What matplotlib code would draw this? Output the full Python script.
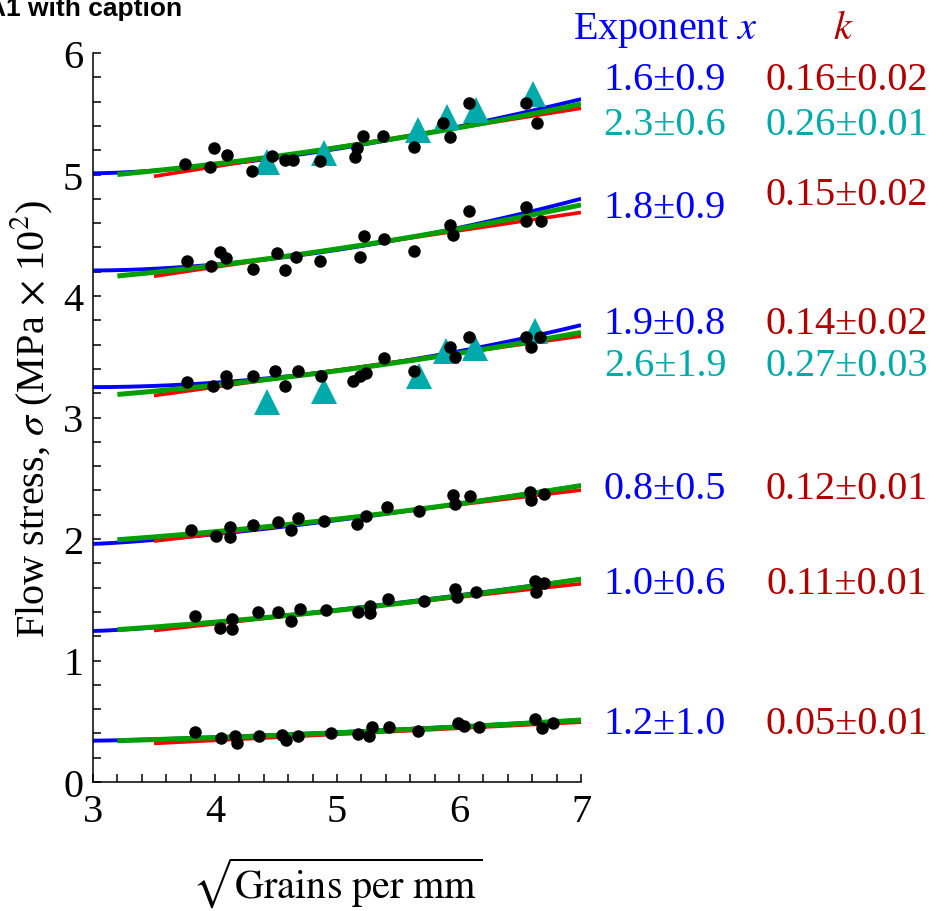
import numpy as np
import matplotlib
matplotlib.use("Agg")
import matplotlib.pyplot as plt
from matplotlib.ticker import MultipleLocator

plt.rcParams["font.family"] = ["Liberation Serif", "DejaVu Serif"]
plt.rcParams["mathtext.fontset"] = "stix"

# ---- measured data: sqrt(grains per mm) vs flow stress (MPa x 10^2) ----
g1 = [3.75, 3.96, 3.99, 4.10, 4.30, 4.47, 4.57, 4.64, 4.86, 5.15, 5.16, 5.21, 5.38, 5.63, 5.87, 5.93, 6.08, 6.55, 6.64]
s1 = [5.09, 5.06, 5.22, 5.16, 5.03, 5.15, 5.12, 5.12, 5.11, 5.14, 5.22, 5.32, 5.32, 5.23, 5.42, 5.31, 5.59, 5.59, 5.42]

g2 = [3.77, 3.97, 4.04, 4.09, 4.31, 4.51, 4.57, 4.66, 4.86, 5.19, 5.22, 5.385, 5.63, 5.93, 5.95, 6.08, 6.55, 6.55, 6.67]
s2 = [4.285, 4.25, 4.365, 4.31, 4.22, 4.35, 4.21, 4.32, 4.29, 4.32, 4.49, 4.47, 4.37, 4.585, 4.50, 4.70, 4.73, 4.615, 4.615]

g3 = [3.77, 3.98, 4.09, 4.10, 4.31, 4.49, 4.57, 4.68, 4.87, 5.13, 5.19, 5.24, 5.385, 5.63, 5.93, 5.97, 6.08, 6.55, 6.59, 6.66]
s3 = [3.29, 3.26, 3.345, 3.28, 3.345, 3.385, 3.26, 3.38, 3.345, 3.30, 3.345, 3.37, 3.49, 3.385, 3.58, 3.495, 3.665, 3.665, 3.58, 3.665]

g4 = [3.80, 4.01, 4.12, 4.12, 4.31, 4.52, 4.62, 4.68, 4.89, 5.16, 5.24, 5.41, 5.675, 5.95, 5.97, 6.09, 6.58, 6.59, 6.70]
s4 = [2.077, 2.027, 2.096, 2.02, 2.115, 2.14, 2.077, 2.17, 2.15, 2.12, 2.19, 2.26, 2.23, 2.36, 2.29, 2.35, 2.39, 2.32, 2.37]

g5 = [3.84, 4.04, 4.14, 4.14, 4.35, 4.52, 4.62, 4.70, 4.91, 5.17, 5.27, 5.27, 5.42, 5.71, 5.97, 5.98, 6.14, 6.62, 6.63, 6.70]
s5 = [1.364, 1.267, 1.342, 1.259, 1.397, 1.397, 1.328, 1.424, 1.416, 1.397, 1.39, 1.45, 1.506, 1.487, 1.588, 1.52, 1.561, 1.657, 1.561, 1.635]

g6 = [3.84, 4.05, 4.16, 4.18, 4.36, 4.55, 4.58, 4.68, 4.95, 5.17, 5.26, 5.29, 5.43, 5.66, 5.99, 6.04, 6.16, 6.62, 6.68, 6.77]
s6 = [0.414, 0.362, 0.376, 0.318, 0.381, 0.389, 0.348, 0.381, 0.40, 0.395, 0.381, 0.455, 0.455, 0.417, 0.483, 0.458, 0.45, 0.518, 0.444, 0.486]

# second material (triangles)
gt1 = [4.43, 4.89, 5.66, 5.90, 6.14, 6.61]
st1 = [5.10, 5.18, 5.37, 5.47, 5.53, 5.66]
gt3 = [4.43, 4.89, 5.67, 5.89, 6.13, 6.62]
st3 = [3.13, 3.215, 3.34, 3.545, 3.575, 3.71]

# ---- fitted curves, one entry per data set (top to bottom) ----
k_fit = [0.16, 0.15, 0.14, 0.12, 0.11, 0.05]           # linear Hall-Petch slope
red_icpt = [4.425, 3.6375, 2.69, 1.5625, 0.8615, 0.1425]
blue_start = [5.01, 4.21, 3.25, 1.96, 1.243, 0.34]     # value at g = 3
blue_end = [5.62, 4.80, 3.76, 2.44, 1.67, 0.51]        # value at g = 7
blue_shape = [1.6, 1.8, 1.9, 1.3, 1.3, 1.3]
green_a = [4.847, 4.010, 3.055, 1.876, 1.144, 0.295]   # a + c*g^2
green_c = [0.01496, 0.0151, 0.01316, 0.0115, 0.01073, 0.00439]

# ---- annotation text ----
exp_labels = ["1.6\u00b10.9", "1.8\u00b10.9", "1.9\u00b10.8", "0.8\u00b10.5", "1.0\u00b10.6", "1.2\u00b11.0"]
k_labels = ["0.16\u00b10.02", "0.15\u00b10.02", "0.14\u00b10.02", "0.12\u00b10.01", "0.11\u00b10.01", "0.05\u00b10.01"]
exp_base_px = [90, 218, 334, 499, 594, 734]
k_base_px = [90, 205, 334, 499, 594, 734]
tri_exp_labels = ["2.3\u00b10.6", "2.6\u00b11.9"]
tri_k_labels = ["0.26\u00b10.01", "0.27\u00b10.03"]
tri_base_px = [135, 376]

BLUE = "#0000ff"
RED = "#ff0000"
GREEN = "#00a000"
CYAN = "#00aaaa"
DARKRED = "#b00000"

W, H = 931, 912
fig = plt.figure(figsize=(W / 100, H / 100), dpi=100)
ax = fig.add_axes([93 / W, 1 - 783 / H, 488 / W, 729 / H])

groups_g = [g1, g2, g3, g4, g5, g6]
groups_s = [s1, s2, s3, s4, s5, s6]

for i in range(6):
    gb = np.linspace(3.0, 7.0, 200)
    B = (blue_end[i] - blue_start[i]) / 4.0 ** blue_shape[i]
    ax.plot(gb, blue_start[i] + B * (gb - 3.0) ** blue_shape[i], color=BLUE, lw=2.8,
            solid_capstyle="butt", zorder=2)
    gr = np.linspace(3.5, 7.0, 50)
    ax.plot(gr, red_icpt[i] + k_fit[i] * gr, color=RED, lw=2.6, solid_capstyle="butt", zorder=3)
    gg = np.linspace(3.2, 7.0, 200)
    ax.plot(gg, green_a[i] + green_c[i] * gg ** 2, color=GREEN, lw=3.6,
            solid_capstyle="butt", zorder=4)

for gt, st in [(gt1, st1), (gt3, st3)]:
    ax.plot(gt, st, linestyle="none", marker="^", markersize=19, color=CYAN,
            markeredgewidth=0, zorder=5)

for gs, ss in zip(groups_g, groups_s):
    ax.plot(gs, ss, linestyle="none", marker="o", markersize=9, color="black",
            markeredgewidth=0, zorder=6)

ax.set_xlim(3, 7)
ax.set_ylim(0, 6)
for side in ("top", "right"):
    ax.spines[side].set_visible(False)
for side in ("left", "bottom"):
    ax.spines[side].set_linewidth(1.1)
ax.xaxis.set_major_locator(MultipleLocator(1))
ax.xaxis.set_minor_locator(MultipleLocator(0.2))
ax.yaxis.set_major_locator(MultipleLocator(1))
ax.yaxis.set_minor_locator(MultipleLocator(0.2))
ax.tick_params(which="both", direction="in", length=6, width=1.1)
ax.tick_params(axis="x", which="major", labelsize=29, pad=8)
ax.tick_params(axis="y", which="major", labelsize=29, pad=7)

ax.set_xlabel(r"$\sqrt{\mathrm{Grains\ per\ mm}}$", fontsize=29, labelpad=18)
ax.set_ylabel(r"Flow stress, $\sigma$ (MPa $\times$ 10$^2$)", fontsize=29, labelpad=6)

def fy(py):
    return 1 - py / H

fig.text(665 / W, fy(39), r"Exponent $x$", color=BLUE, fontsize=29, ha="center", va="baseline")
fig.text(843 / W, fy(39), r"$k$", color=DARKRED, fontsize=29, ha="center", va="baseline")
for lab, pb in zip(exp_labels, exp_base_px):
    fig.text(665 / W, fy(pb), lab, color=BLUE, fontsize=29, ha="center", va="baseline")
for lab, pb in zip(k_labels, k_base_px):
    fig.text(847 / W, fy(pb), lab, color=DARKRED, fontsize=29, ha="center", va="baseline")
for lab, pb in zip(tri_exp_labels, tri_base_px):
    fig.text(665 / W, fy(pb), lab, color=CYAN, fontsize=29, ha="center", va="baseline")
for lab, pb in zip(tri_k_labels, tri_base_px):
    fig.text(847 / W, fy(pb), lab, color=CYAN, fontsize=29, ha="center", va="baseline")

fig.text(-13 / W, fy(16), "A1 with caption", fontsize=19, fontweight="bold",
         family=["Liberation Sans", "DejaVu Sans"], ha="left", va="baseline")

fig.savefig("out.png", dpi=100)
